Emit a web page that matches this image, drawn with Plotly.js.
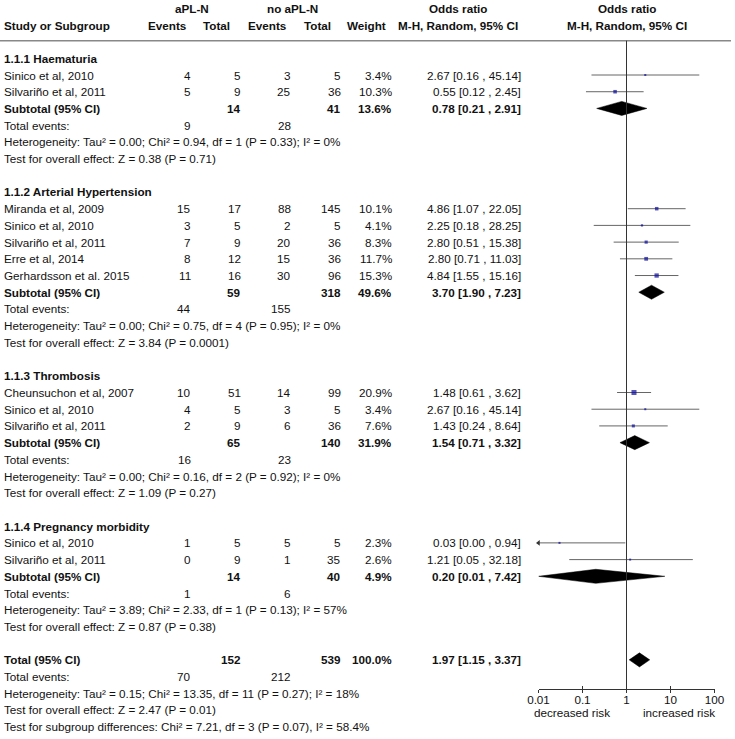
<!DOCTYPE html>
<html>
<head>
<meta charset="utf-8">
<script src="https://cdn.plot.ly/plotly-3.0.1.min.js"></script>
<style>html,body{margin:0;padding:0;background:#fff;}#chart{width:735px;height:739px;}</style>
</head>
<body>
<div id="chart"></div>
<script>
// ---------------- DATA ----------------
const groupNames = ['1.1.1 Haematuria', '1.1.2 Arterial Hypertension', '1.1.3 Thrombosis', '1.1.4 Pregnancy morbidity'];

const studyGroup = [0, 0, 1, 1, 1, 1, 1, 2, 2, 2, 3, 3];
const studyNames = ['Sinico et al, 2010', 'Silvariño et al, 2011',
  'Miranda et al, 2009', 'Sinico et al, 2010', 'Silvariño et al, 2011', 'Erre et al, 2014', 'Gerhardsson et al. 2015',
  'Cheunsuchon et al, 2007', 'Sinico et al, 2010', 'Silvariño et al, 2011',
  'Sinico et al, 2010', 'Silvariño et al, 2011'];
const expEvents = [4, 5, 15, 3, 7, 8, 11, 10, 4, 2, 1, 0];
const expTotal  = [5, 9, 17, 5, 9, 12, 16, 51, 5, 9, 5, 9];
const ctlEvents = [3, 25, 88, 2, 20, 15, 30, 14, 3, 6, 5, 1];
const ctlTotal  = [5, 36, 145, 5, 36, 36, 96, 99, 5, 36, 5, 35];
const studyWeight = [3.4, 10.3, 10.1, 4.1, 8.3, 11.7, 15.3, 20.9, 3.4, 7.6, 2.3, 2.6];
const studyOR = [2.67, 0.55, 4.86, 2.25, 2.80, 2.80, 4.84, 1.48, 2.67, 1.43, 0.03, 1.21];
const studyLo = [0.16, 0.12, 1.07, 0.18, 0.51, 0.71, 1.55, 0.61, 0.16, 0.24, 0.00, 0.05];
const studyHi = [45.14, 2.45, 22.05, 28.25, 15.38, 11.03, 15.16, 3.62, 45.14, 8.64, 0.94, 32.18];

const subTotalExp = [14, 59, 65, 14];
const subTotalCtl = [41, 318, 140, 40];
const subWeight = [13.6, 49.6, 31.9, 4.9];
const subOR = [0.78, 3.70, 1.54, 0.20];
const subLo = [0.21, 1.90, 0.71, 0.01];
const subHi = [2.91, 7.23, 3.32, 7.42];
const subEventsExp = [9, 44, 16, 1];
const subEventsCtl = [28, 155, 23, 6];
const subHet = [
  'Heterogeneity: Tau² = 0.00; Chi² = 0.94, df = 1 (P = 0.33); I² = 0%',
  'Heterogeneity: Tau² = 0.00; Chi² = 0.75, df = 4 (P = 0.95); I² = 0%',
  'Heterogeneity: Tau² = 0.00; Chi² = 0.16, df = 2 (P = 0.92); I² = 0%',
  'Heterogeneity: Tau² = 3.89; Chi² = 2.33, df = 1 (P = 0.13); I² = 57%'];
const subTest = [
  'Test for overall effect: Z = 0.38 (P = 0.71)',
  'Test for overall effect: Z = 3.84 (P = 0.0001)',
  'Test for overall effect: Z = 1.09 (P = 0.27)',
  'Test for overall effect: Z = 0.87 (P = 0.38)'];

const totalExp = 152, totalCtl = 539, totalWeight = 100.0;
const totalOR = 1.97, totalLo = 1.15, totalHi = 3.37;
const totalEventsExp = 70, totalEventsCtl = 212;
const totalNotes = [
  'Heterogeneity: Tau² = 0.15; Chi² = 13.35, df = 11 (P = 0.27); I² = 18%',
  'Test for overall effect: Z = 2.47 (P = 0.01)',
  'Test for subgroup differences: Chi² = 7.21, df = 3 (P = 0.07), I² = 58.4%'];

const axisTicks = [0.01, 0.1, 1, 10, 100];
const axisTickLabels = ['0.01', '0.1', '1', '10', '100'];
const favourLabels = ['decreased risk', 'increased risk'];

// ---------------- LAYOUT CONSTANTS ----------------
const W = 735, H = 739;
const ROW0 = 58.3, ROWH = 16.71;
const rowPx = py => (py - ROW0) / ROWH;
const px = x => x / W;
const COL = {label: 3, ev1: 192, tot1: 242, ev2: 292, tot2: 342, wt: 393, or: 522};
const FONT = 'Arial, "Liberation Sans", Helvetica, sans-serif';
const TXT = '#111';
const FS = 11.7;
const AXIS_Y = 688.5;

const ann = [];
function addText(text, xPix, row, anchor, bold) {
  ann.push({
    text: bold ? '<b>' + text + '</b>' : text,
    xref: 'paper', yref: 'y', x: px(xPix), y: row,
    xanchor: anchor, yanchor: 'middle', showarrow: false,
    borderpad: 0,
    font: {family: FONT, size: FS, color: TXT}
  });
}
const fmtOR = (o, l, h) => o.toFixed(2) + ' [' + l.toFixed(2) + ' , ' + h.toFixed(2) + ']';

// headers
const hr1 = rowPx(8.5), hr2 = rowPx(25);
addText('aPL-N', 192, hr1, 'center', true);
addText('no aPL-N', 292, hr1, 'center', true);
addText('Odds ratio', 457.5, hr1, 'center', true);
addText('Odds ratio', 626.5, hr1, 'center', true);
addText('Study or Subgroup', COL.label, hr2, 'left', true);
addText('Events', 167.5, hr2, 'center', true);
addText('Total', 216.7, hr2, 'center', true);
addText('Events', 267.7, hr2, 'center', true);
addText('Total', 317.5, hr2, 'center', true);
addText('Weight', 387, hr2, 'right', true);
addText('M-H, Random, 95% CI', 457.5, hr2, 'center', true);
addText('M-H, Random, 95% CI', 626.5, hr2, 'center', true);

// traces
const ciX = [], ciY = [];
const mX = [], mY = [], mS = [];
const arX = [], arY = [];
const dX = [], dY = [];
const axisMin = axisTicks[0];
const DH = 0.42;
function diamond(o, l, h, r) {
  dX.push(l, o, h, o, l, null);
  dY.push(r, r - DH, r, r + DH, r, null);
}

let row = 0;
groupNames.forEach((g, gi) => {
  addText(g, COL.label, row, 'left', true);
  row++;
  studyGroup.forEach((sg, i) => {
    if (sg !== gi) return;
    addText(studyNames[i], COL.label, row, 'left', false);
    addText(String(expEvents[i]), COL.ev1, row, 'right', false);
    addText(String(expTotal[i]), COL.tot1, row, 'right', false);
    addText(String(ctlEvents[i]), COL.ev2, row, 'right', false);
    addText(String(ctlTotal[i]), COL.tot2, row, 'right', false);
    addText(studyWeight[i].toFixed(1) + '%', COL.wt, row, 'right', false);
    addText(fmtOR(studyOR[i], studyLo[i], studyHi[i]), COL.or, row, 'right', false);
    const lo = Math.max(studyLo[i], axisMin);
    ciX.push(lo, studyHi[i], null); ciY.push(row, row, null);
    if (studyLo[i] < axisMin) { arX.push(axisMin); arY.push(row); }
    mX.push(studyOR[i]); mY.push(row); mS.push(Math.max(2, 1.1 * Math.sqrt(studyWeight[i])));
    row++;
  });
  addText('Subtotal (95% CI)', COL.label, row, 'left', true);
  addText(String(subTotalExp[gi]), COL.tot1, row, 'right', true);
  addText(String(subTotalCtl[gi]), COL.tot2, row, 'right', true);
  addText(subWeight[gi].toFixed(1) + '%', COL.wt, row, 'right', true);
  addText(fmtOR(subOR[gi], subLo[gi], subHi[gi]), COL.or, row, 'right', true);
  diamond(subOR[gi], subLo[gi], subHi[gi], row);
  row++;
  addText('Total events:', COL.label, row, 'left', false);
  addText(String(subEventsExp[gi]), COL.ev1, row, 'right', false);
  addText(String(subEventsCtl[gi]), COL.ev2, row, 'right', false);
  row++;
  addText(subHet[gi], COL.label, row, 'left', false); row++;
  addText(subTest[gi], COL.label, row, 'left', false); row++;
  row++; // blank
});
addText('Total (95% CI)', COL.label, row, 'left', true);
addText(String(totalExp), COL.tot1, row, 'right', true);
addText(String(totalCtl), COL.tot2, row, 'right', true);
addText(totalWeight.toFixed(1) + '%', COL.wt, row, 'right', true);
addText(fmtOR(totalOR, totalLo, totalHi), COL.or, row, 'right', true);
diamond(totalOR, totalLo, totalHi, row);
row++;
addText('Total events:', COL.label, row, 'left', false);
addText(String(totalEventsExp), COL.ev1, row, 'right', false);
addText(String(totalEventsCtl), COL.ev2, row, 'right', false);
row++;
totalNotes.forEach(t => { addText(t, COL.label, row, 'left', false); row++; });

// favour labels
addText(favourLabels[0], 571.7, rowPx(712.3), 'center', false);
addText(favourLabels[1], 679, rowPx(712.3), 'center', false);

const traces = [
  {type: 'scatter', mode: 'lines', x: ciX, y: ciY, line: {color: '#666', width: 1}, hoverinfo: 'skip', connectgaps: false},
  {type: 'scatter', mode: 'markers', x: arX, y: arY, cliponaxis: false,
    marker: {symbol: 'triangle-left', size: 5, color: '#333'}, hoverinfo: 'skip'},
  {type: 'scatter', mode: 'markers', x: mX, y: mY, cliponaxis: false,
    marker: {symbol: 'square', size: mS, color: '#0a0a9c', line: {width: 0}}, hoverinfo: 'skip'},
  {type: 'scatter', mode: 'lines', x: dX, y: dY, fill: 'toself', fillcolor: '#000',
    line: {color: '#000', width: 0.5}, hoverinfo: 'skip', cliponaxis: false},
  {type: 'scatter', mode: 'markers', x: [], y: [], xaxis: 'x2', yaxis: 'y', hoverinfo: 'skip'}
];

const axisCommon = {
  type: 'log', range: [-2, 2], domain: [538.5 / W, 714.5 / W],
  anchor: 'free', position: 1 - AXIS_Y / H,
  tickvals: axisTicks, ticktext: axisTickLabels,
  tickcolor: '#333', tickwidth: 1,
  showgrid: false, zeroline: false, fixedrange: true
};

const layout = {
  width: W, height: H,
  margin: {l: 0, r: 0, t: 0, b: 0},
  paper_bgcolor: '#fff', plot_bgcolor: 'rgba(0,0,0,0)',
  showlegend: false,
  xaxis: Object.assign({}, axisCommon, {
    showline: true, linecolor: '#333', linewidth: 1,
    ticks: 'outside', ticklen: 3, ticklabelstandoff: -3,
    tickfont: {family: FONT, size: FS, color: TXT}
  }),
  xaxis2: Object.assign({}, axisCommon, {
    overlaying: 'x', showline: false, ticks: 'inside', ticklen: 2.5, showticklabels: false
  }),
  yaxis: {
    range: [rowPx(H), rowPx(0)], domain: [0, 1],
    visible: false, showgrid: false, zeroline: false, fixedrange: true
  },
  shapes: [
    {type: 'line', xref: 'paper', yref: 'y', x0: 0, x1: px(731), y0: rowPx(40.7), y1: rowPx(40.7),
      line: {color: '#888', width: 1.5}},
    {type: 'line', xref: 'x', yref: 'y', x0: 1, x1: 1, y0: rowPx(40.7), y1: rowPx(AXIS_Y),
      line: {color: '#333', width: 1}}
  ],
  annotations: ann
};

Plotly.newPlot('chart', traces, layout, {displayModeBar: false, staticPlot: true});
</script>
</body>
</html>
